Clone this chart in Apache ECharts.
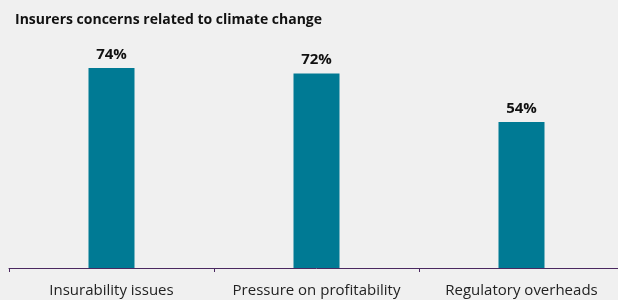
<!DOCTYPE html>
<html>
<head>
<meta charset="utf-8">
<script src="https://cdn.jsdelivr.net/npm/echarts@6/dist/echarts.min.js"></script>
<style>
  html, body { margin: 0; padding: 0; background: #f0f0f0; overflow: hidden; }
  /* container a bit wider than the window: the axis runs off the right edge */
  #chart { width: 630px; height: 300px; }
</style>
</head>
<body>
<div id="chart"></div>
<script>
  // categories and values (percent)
  var categories = ['Insurability issues', 'Pressure on profitability', 'Regulatory overheads'];
  var values = [74, 72, 54];

  var myChart = echarts.init(document.getElementById('chart'));

  var option = {
    backgroundColor: '#f0f0f0',
    textStyle: { fontFamily: 'Open Sans' },
    title: {
      text: 'Insurers concerns related to climate change',
      left: 10,
      top: 8,
      textStyle: { fontSize: 14, fontWeight: 'bold', color: '#111', fontFamily: 'Open Sans' }
    },
    grid: { left: 9, width: 615, top: 68, bottom: 32, containLabel: false },
    xAxis: {
      type: 'category',
      data: categories,
      axisLine: { lineStyle: { color: '#4a2860', width: 1 } },
      axisTick: { show: true, length: 4, lineStyle: { color: '#4a2860' } },
      axisLabel: { interval: 0, fontSize: 15, color: '#222', margin: 15, fontFamily: 'Open Sans' }
    },
    yAxis: {
      type: 'value',
      min: 0,
      max: 74,
      show: false,
      splitLine: { show: false }
    },
    series: [{
      type: 'bar',
      data: values,
      barWidth: 46,
      itemStyle: { color: '#007a94' },
      label: {
        show: true,
        position: 'top',
        distance: 6,
        formatter: '{c}%',
        fontSize: 15,
        fontWeight: 'bold',
        color: '#111',
        fontFamily: 'Open Sans'
      }
    }]
  };

  myChart.setOption(option);
</script>
</body>
</html>
